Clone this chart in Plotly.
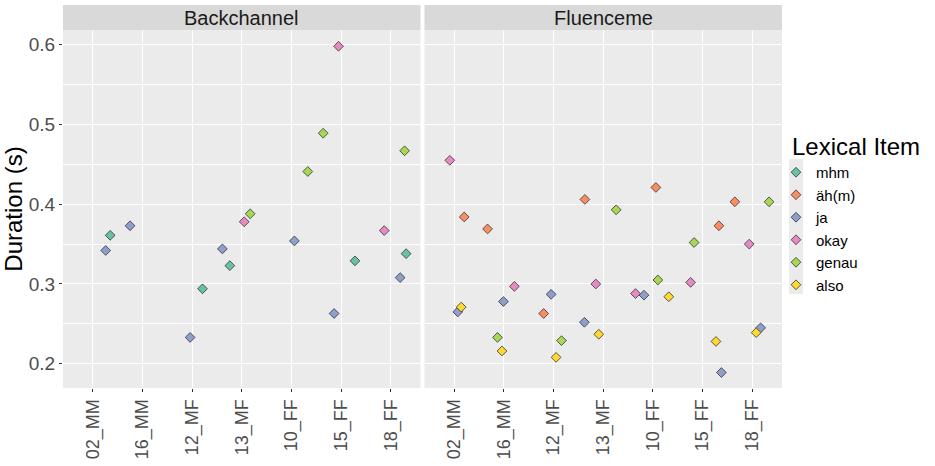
import plotly.graph_objects as go
from plotly.subplots import make_subplots

speakers = ["02_MM", "16_MM", "12_MF", "13_MF", "10_FF", "15_FF", "18_FF"]
facets = ["Backchannel", "Fluenceme"]
items = ["mhm", "äh(m)", "ja", "okay", "genau", "also"]
colors = ["#66C2A5", "#FC8D62", "#8DA0CB", "#E78AC3", "#A6D854", "#FFD92F"]

# Backchannel: speaker, horizontal jitter, duration (s)
bc_mhm_spk = ["02_MM", "12_MF", "13_MF", "15_FF", "18_FF"]
bc_mhm_jit = [0.35, 0.21, -0.24, 0.28, 0.31]
bc_mhm_dur = [0.361, 0.294, 0.323, 0.329, 0.338]

bc_ahm_spk = []
bc_ahm_jit = []
bc_ahm_dur = []

bc_ja_spk = ["02_MM", "16_MM", "12_MF", "13_MF", "10_FF", "15_FF", "18_FF"]
bc_ja_jit = [0.26, -0.25, -0.04, -0.39, 0.06, -0.14, 0.19]
bc_ja_dur = [0.342, 0.373, 0.233, 0.344, 0.354, 0.263, 0.308]

bc_okay_spk = ["13_MF", "15_FF", "18_FF"]
bc_okay_jit = [0.05, -0.05, -0.13]
bc_okay_dur = [0.378, 0.598, 0.367]

bc_genau_spk = ["13_MF", "10_FF", "15_FF", "18_FF"]
bc_genau_jit = [0.17, 0.33, -0.36, 0.28]
bc_genau_dur = [0.388, 0.441, 0.489, 0.467]

bc_also_spk = []
bc_also_jit = []
bc_also_dur = []

# Fluenceme
fl_mhm_spk = []
fl_mhm_jit = []
fl_mhm_dur = []

fl_ahm_spk = ["02_MM", "16_MM", "12_MF", "13_MF", "10_FF", "15_FF", "18_FF"]
fl_ahm_jit = [0.20, -0.33, -0.20, -0.37, 0.06, 0.33, -0.35]
fl_ahm_dur = [0.384, 0.369, 0.263, 0.406, 0.421, 0.373, 0.403]

fl_ja_spk = ["02_MM", "16_MM", "12_MF", "13_MF", "10_FF", "15_FF", "18_FF"]
fl_ja_jit = [0.07, -0.01, -0.05, -0.38, -0.18, 0.38, 0.17]
fl_ja_dur = [0.265, 0.278, 0.287, 0.252, 0.286, 0.189, 0.245]

fl_okay_spk = ["02_MM", "16_MM", "13_MF", "10_FF", "15_FF", "18_FF"]
fl_okay_jit = [-0.09, 0.21, -0.15, -0.35, -0.24, -0.06]
fl_okay_dur = [0.455, 0.297, 0.300, 0.288, 0.302, 0.350]

fl_genau_spk = ["16_MM", "12_MF", "13_MF", "10_FF", "15_FF", "18_FF"]
fl_genau_jit = [-0.13, 0.16, 0.26, 0.10, -0.17, 0.34]
fl_genau_dur = [0.233, 0.229, 0.393, 0.305, 0.352, 0.403]

fl_also_spk = ["02_MM", "16_MM", "12_MF", "13_MF", "10_FF", "15_FF", "18_FF"]
fl_also_jit = [0.14, -0.04, 0.05, -0.09, 0.32, 0.27, 0.08]
fl_also_dur = [0.271, 0.216, 0.208, 0.237, 0.284, 0.228, 0.239]

data = {
    "Backchannel": [
        (bc_mhm_spk, bc_mhm_jit, bc_mhm_dur),
        (bc_ahm_spk, bc_ahm_jit, bc_ahm_dur),
        (bc_ja_spk, bc_ja_jit, bc_ja_dur),
        (bc_okay_spk, bc_okay_jit, bc_okay_dur),
        (bc_genau_spk, bc_genau_jit, bc_genau_dur),
        (bc_also_spk, bc_also_jit, bc_also_dur),
    ],
    "Fluenceme": [
        (fl_mhm_spk, fl_mhm_jit, fl_mhm_dur),
        (fl_ahm_spk, fl_ahm_jit, fl_ahm_dur),
        (fl_ja_spk, fl_ja_jit, fl_ja_dur),
        (fl_okay_spk, fl_okay_jit, fl_okay_dur),
        (fl_genau_spk, fl_genau_jit, fl_genau_dur),
        (fl_also_spk, fl_also_jit, fl_also_dur),
    ],
}

FONT = "Liberation Sans, Arial, sans-serif"
W, H = 935, 466
ML, MR, MT, MB = 63, 153, 30, 78
plot_w = W - ML - MR
plot_h = H - MT - MB

fig = make_subplots(rows=1, cols=2, horizontal_spacing=4 / plot_w)

for k, item in enumerate(items):
    shown = False
    for c, facet in enumerate(facets):
        spk, jit, dur = data[facet][k]
        if not spk:
            continue
        xs = [speakers.index(s) + 1 + j for s, j in zip(spk, jit)]
        fig.add_trace(
            go.Scatter(
                x=xs, y=dur, mode="markers", name=item, legendgroup=item,
                showlegend=not shown, legendrank=k + 1,
                marker=dict(symbol="diamond", size=7.5, color=colors[k],
                            line=dict(color="#333333", width=0.8)),
            ),
            row=1, col=c + 1,
        )
        shown = True

ax_common = dict(
    showline=False, zeroline=False, gridcolor="white", gridwidth=1.1,
    ticks="outside", ticklen=3, tickcolor="#333333", tickwidth=1,
    tickfont=dict(family=FONT, size=19, color="#4D4D4D"), automargin=False,
)
for c in (1, 2):
    fig.update_xaxes(
        range=[0.4, 7.6], tickmode="array", tickvals=list(range(1, 8)),
        ticktext=speakers, tickangle=-90, row=1, col=c,
        **{**ax_common, "tickfont": dict(family=FONT, size=18, color="#4D4D4D")},
    )
    fig.update_yaxes(
        range=[0.1696, 0.6184], tickmode="array", tickvals=[0.2, 0.3, 0.4, 0.5, 0.6],
        ticktext=["0.2", "0.3", "0.4", "0.5", "0.6"],
        minor=dict(tickmode="array", tickvals=[0.25, 0.35, 0.45, 0.55],
                   showgrid=True, gridcolor="white", gridwidth=0.5, ticks=""),
        row=1, col=c, **ax_common,
    )
fig.update_yaxes(showticklabels=False, ticks="", row=1, col=2)
fig.update_yaxes(title=dict(text="Duration (s)", font=dict(family=FONT, size=24, color="black"),
                            standoff=8), row=1, col=1)

# facet strips
strip_top = 1 + 25 / plot_h
for c, facet in enumerate(facets):
    xref = "x domain" if c == 0 else "x2 domain"
    fig.add_shape(type="rect", xref=xref, yref="paper", x0=0, x1=1, y0=1, y1=strip_top,
                  fillcolor="#D9D9D9", line=dict(width=0), layer="below")
    fig.add_annotation(text=facet, xref=xref, yref="paper", x=0.5, y=(1 + strip_top) / 2,
                       showarrow=False, font=dict(family=FONT, size=20, color="#1A1A1A"),
                       xanchor="center", yanchor="middle")


def px_x(px):
    return (px - ML) / plot_w


def px_y(py):
    return 1 - (py - MT) / plot_h


# legend title (left-aligned above the keys, as in ggplot)
fig.add_annotation(text="Lexical Item", xref="paper", yref="paper", x=px_x(790), y=px_y(146),
                   xanchor="left", yanchor="middle", showarrow=False,
                   font=dict(family=FONT, size=24, color="black"))

# grey legend-key column
fig.add_shape(type="rect", xref="paper", yref="paper", x0=px_x(789), x1=px_x(803),
              y0=px_y(159), y1=px_y(294), fillcolor="#EBEBEB", line=dict(width=0),
              layer="below")

fig.update_layout(
    width=W, height=H,
    margin=dict(l=ML, r=MR, t=MT, b=MB, autoexpand=False),
    paper_bgcolor="white", plot_bgcolor="#EBEBEB",
    font=dict(family=FONT, color="black"),
    legend=dict(
        font=dict(family=FONT, size=15, color="black"),
        x=px_x(776), xanchor="left", y=px_y(156), yanchor="top",
        bgcolor="rgba(0,0,0,0)", tracegroupgap=0,
    ),
)

fig.write_html("out.html", post_script="document.body.style.margin='0';",
               config={"displayModeBar": False})
